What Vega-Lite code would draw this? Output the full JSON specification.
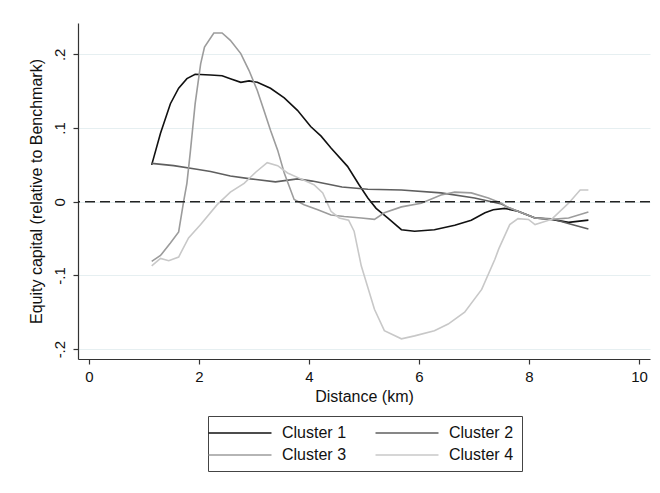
{
  "$schema": "https://vega.github.io/schema/vega-lite/v6.json",
  "autosize": "none",
  "width": 572,
  "height": 336,
  "padding": {"left": 78, "top": 23, "right": 10, "bottom": 134},
  "background": "white",
  "config": {
    "view": {"stroke": null},
    "font": "Liberation Sans",
    "axis": {"domainColor": "#333333", "tickColor": "#333333", "labelColor": "#111111", "titleColor": "#111111", "titleFontWeight": "normal", "labelFontSize": 15, "titleFontSize": 16, "tickSize": 5, "domainWidth": 1.2, "tickWidth": 1.2},
    "legend": {"labelFontSize": 16, "labelColor": "#111111"}
  },
  "datasets": {
    "curves": [
      {"c": "Cluster 1", "x": 1.14, "y": 0.050},
      {"c": "Cluster 1", "x": 1.30, "y": 0.093},
      {"c": "Cluster 1", "x": 1.48, "y": 0.133},
      {"c": "Cluster 1", "x": 1.63, "y": 0.154},
      {"c": "Cluster 1", "x": 1.78, "y": 0.167},
      {"c": "Cluster 1", "x": 1.93, "y": 0.173},
      {"c": "Cluster 1", "x": 2.21, "y": 0.172},
      {"c": "Cluster 1", "x": 2.42, "y": 0.171},
      {"c": "Cluster 1", "x": 2.57, "y": 0.167},
      {"c": "Cluster 1", "x": 2.76, "y": 0.162},
      {"c": "Cluster 1", "x": 2.91, "y": 0.164},
      {"c": "Cluster 1", "x": 3.06, "y": 0.162},
      {"c": "Cluster 1", "x": 3.30, "y": 0.154},
      {"c": "Cluster 1", "x": 3.55, "y": 0.141},
      {"c": "Cluster 1", "x": 3.79, "y": 0.124},
      {"c": "Cluster 1", "x": 4.03, "y": 0.102},
      {"c": "Cluster 1", "x": 4.22, "y": 0.089},
      {"c": "Cluster 1", "x": 4.40, "y": 0.073},
      {"c": "Cluster 1", "x": 4.70, "y": 0.048},
      {"c": "Cluster 1", "x": 4.91, "y": 0.023},
      {"c": "Cluster 1", "x": 5.07, "y": 0.005},
      {"c": "Cluster 1", "x": 5.22, "y": -0.009},
      {"c": "Cluster 1", "x": 5.43, "y": -0.022},
      {"c": "Cluster 1", "x": 5.68, "y": -0.038},
      {"c": "Cluster 1", "x": 5.92, "y": -0.040},
      {"c": "Cluster 1", "x": 6.28, "y": -0.038},
      {"c": "Cluster 1", "x": 6.65, "y": -0.032},
      {"c": "Cluster 1", "x": 6.95, "y": -0.025},
      {"c": "Cluster 1", "x": 7.20, "y": -0.015},
      {"c": "Cluster 1", "x": 7.35, "y": -0.011},
      {"c": "Cluster 1", "x": 7.56, "y": -0.009},
      {"c": "Cluster 1", "x": 7.80, "y": -0.013},
      {"c": "Cluster 1", "x": 8.11, "y": -0.022},
      {"c": "Cluster 1", "x": 8.41, "y": -0.024},
      {"c": "Cluster 1", "x": 8.72, "y": -0.028},
      {"c": "Cluster 1", "x": 9.08, "y": -0.025},
      {"c": "Cluster 2", "x": 1.14, "y": 0.052},
      {"c": "Cluster 2", "x": 1.54, "y": 0.049},
      {"c": "Cluster 2", "x": 1.96, "y": 0.044},
      {"c": "Cluster 2", "x": 2.21, "y": 0.041},
      {"c": "Cluster 2", "x": 2.57, "y": 0.035},
      {"c": "Cluster 2", "x": 2.94, "y": 0.031},
      {"c": "Cluster 2", "x": 3.39, "y": 0.027},
      {"c": "Cluster 2", "x": 3.79, "y": 0.031},
      {"c": "Cluster 2", "x": 4.06, "y": 0.028},
      {"c": "Cluster 2", "x": 4.40, "y": 0.023},
      {"c": "Cluster 2", "x": 4.60, "y": 0.020},
      {"c": "Cluster 2", "x": 5.07, "y": 0.017},
      {"c": "Cluster 2", "x": 5.68, "y": 0.016},
      {"c": "Cluster 2", "x": 6.40, "y": 0.012},
      {"c": "Cluster 2", "x": 7.01, "y": 0.005},
      {"c": "Cluster 2", "x": 7.50, "y": -0.003},
      {"c": "Cluster 2", "x": 7.60, "y": -0.007},
      {"c": "Cluster 2", "x": 8.11, "y": -0.022},
      {"c": "Cluster 2", "x": 8.41, "y": -0.023},
      {"c": "Cluster 2", "x": 8.78, "y": -0.031},
      {"c": "Cluster 2", "x": 9.08, "y": -0.037},
      {"c": "Cluster 3", "x": 1.14, "y": -0.081},
      {"c": "Cluster 3", "x": 1.30, "y": -0.073},
      {"c": "Cluster 3", "x": 1.48, "y": -0.056},
      {"c": "Cluster 3", "x": 1.63, "y": -0.041},
      {"c": "Cluster 3", "x": 1.72, "y": 0.000},
      {"c": "Cluster 3", "x": 1.78, "y": 0.025},
      {"c": "Cluster 3", "x": 1.84, "y": 0.066},
      {"c": "Cluster 3", "x": 1.93, "y": 0.133},
      {"c": "Cluster 3", "x": 2.03, "y": 0.187},
      {"c": "Cluster 3", "x": 2.10, "y": 0.210},
      {"c": "Cluster 3", "x": 2.27, "y": 0.229},
      {"c": "Cluster 3", "x": 2.42, "y": 0.229},
      {"c": "Cluster 3", "x": 2.57, "y": 0.219},
      {"c": "Cluster 3", "x": 2.76, "y": 0.201},
      {"c": "Cluster 3", "x": 2.91, "y": 0.178},
      {"c": "Cluster 3", "x": 3.06, "y": 0.151},
      {"c": "Cluster 3", "x": 3.18, "y": 0.124},
      {"c": "Cluster 3", "x": 3.30, "y": 0.097},
      {"c": "Cluster 3", "x": 3.43, "y": 0.070},
      {"c": "Cluster 3", "x": 3.55, "y": 0.039},
      {"c": "Cluster 3", "x": 3.73, "y": 0.003},
      {"c": "Cluster 3", "x": 3.91, "y": -0.004},
      {"c": "Cluster 3", "x": 4.16, "y": -0.011},
      {"c": "Cluster 3", "x": 4.40, "y": -0.018},
      {"c": "Cluster 3", "x": 4.64, "y": -0.020},
      {"c": "Cluster 3", "x": 4.95, "y": -0.022},
      {"c": "Cluster 3", "x": 5.19, "y": -0.024},
      {"c": "Cluster 3", "x": 5.37, "y": -0.015},
      {"c": "Cluster 3", "x": 5.68, "y": -0.007},
      {"c": "Cluster 3", "x": 6.04, "y": -0.002},
      {"c": "Cluster 3", "x": 6.40, "y": 0.009},
      {"c": "Cluster 3", "x": 6.65, "y": 0.013},
      {"c": "Cluster 3", "x": 6.95, "y": 0.012},
      {"c": "Cluster 3", "x": 7.26, "y": 0.005},
      {"c": "Cluster 3", "x": 7.50, "y": -0.002},
      {"c": "Cluster 3", "x": 7.60, "y": -0.007},
      {"c": "Cluster 3", "x": 8.11, "y": -0.022},
      {"c": "Cluster 3", "x": 8.41, "y": -0.024},
      {"c": "Cluster 3", "x": 8.72, "y": -0.022},
      {"c": "Cluster 3", "x": 9.08, "y": -0.014},
      {"c": "Cluster 4", "x": 1.14, "y": -0.087},
      {"c": "Cluster 4", "x": 1.30, "y": -0.077},
      {"c": "Cluster 4", "x": 1.45, "y": -0.080},
      {"c": "Cluster 4", "x": 1.63, "y": -0.075},
      {"c": "Cluster 4", "x": 1.81, "y": -0.049},
      {"c": "Cluster 4", "x": 2.03, "y": -0.031},
      {"c": "Cluster 4", "x": 2.33, "y": -0.004},
      {"c": "Cluster 4", "x": 2.57, "y": 0.013},
      {"c": "Cluster 4", "x": 2.82, "y": 0.025},
      {"c": "Cluster 4", "x": 3.03, "y": 0.040},
      {"c": "Cluster 4", "x": 3.24, "y": 0.053},
      {"c": "Cluster 4", "x": 3.43, "y": 0.049},
      {"c": "Cluster 4", "x": 3.61, "y": 0.039},
      {"c": "Cluster 4", "x": 3.85, "y": 0.031},
      {"c": "Cluster 4", "x": 4.09, "y": 0.023},
      {"c": "Cluster 4", "x": 4.25, "y": 0.012},
      {"c": "Cluster 4", "x": 4.40, "y": -0.013},
      {"c": "Cluster 4", "x": 4.55, "y": -0.022},
      {"c": "Cluster 4", "x": 4.72, "y": -0.025},
      {"c": "Cluster 4", "x": 4.82, "y": -0.040},
      {"c": "Cluster 4", "x": 4.95, "y": -0.087},
      {"c": "Cluster 4", "x": 5.19, "y": -0.146},
      {"c": "Cluster 4", "x": 5.37, "y": -0.175},
      {"c": "Cluster 4", "x": 5.68, "y": -0.186},
      {"c": "Cluster 4", "x": 5.92, "y": -0.182},
      {"c": "Cluster 4", "x": 6.28, "y": -0.175},
      {"c": "Cluster 4", "x": 6.53, "y": -0.166},
      {"c": "Cluster 4", "x": 6.83, "y": -0.150},
      {"c": "Cluster 4", "x": 7.14, "y": -0.119},
      {"c": "Cluster 4", "x": 7.38, "y": -0.078},
      {"c": "Cluster 4", "x": 7.45, "y": -0.064},
      {"c": "Cluster 4", "x": 7.65, "y": -0.031},
      {"c": "Cluster 4", "x": 7.80, "y": -0.023},
      {"c": "Cluster 4", "x": 7.99, "y": -0.024},
      {"c": "Cluster 4", "x": 8.11, "y": -0.031},
      {"c": "Cluster 4", "x": 8.41, "y": -0.024},
      {"c": "Cluster 4", "x": 8.72, "y": -0.002},
      {"c": "Cluster 4", "x": 8.93, "y": 0.016},
      {"c": "Cluster 4", "x": 9.08, "y": 0.016}
    ],
    "zero": [{"y": 0}]
  },
  "layer": [
    {
      "data": {"name": "curves"},
      "mark": {"type": "line", "strokeWidth": 1.6, "interpolate": "linear"},
      "encoding": {
        "x": {
          "field": "x", "type": "quantitative",
          "scale": {"domain": [-0.2, 10.2], "nice": false, "zero": false},
          "axis": {"values": [0, 2, 4, 6, 8, 10], "grid": false, "title": "Distance (km)", "labelPadding": 5, "titlePadding": 4, "labelFlush": false}
        },
        "y": {
          "field": "y", "type": "quantitative",
          "scale": {"domain": [-0.2134, 0.2425], "nice": false, "zero": false},
          "axis": {
            "values": [-0.2, -0.1, 0, 0.1, 0.2],
            "grid": true, "gridColor": "#e6eff1", "gridWidth": 1.2,
            "labelAngle": -90, "labelAlign": "center", "labelBaseline": "bottom", "labelPadding": 6,
            "labelExpr": "datum.value == 0 ? '0' : (datum.value < 0 ? '-' : '') + '.' + toString(round(abs(datum.value) * 10))",
            "title": "Equity capital (relative to Benchmark)", "titlePadding": 8, "labelFlush": false
          }
        },
        "color": {
          "field": "c", "type": "nominal",
          "scale": {"domain": ["Cluster 1", "Cluster 2", "Cluster 3", "Cluster 4"], "range": ["#111111", "#5f5f5f", "#9c9c9c", "#c8c8c8"]},
          "legend": {
            "title": null, "orient": "none", "direction": "horizontal", "legendX": 130, "legendY": 393,
            "columns": 2, "columnPadding": 25, "rowPadding": 5,
            "symbolType": "M-4,0H4", "symbolSize": 248, "symbolStrokeWidth": 1.6,
            "symbolOffset": 15, "labelOffset": 33, "padding": 8,
            "strokeColor": "#444444", "fillColor": "white"
          }
        }
      }
    },
    {
      "data": {"name": "zero"},
      "mark": {"type": "rule", "strokeDash": [10, 5], "strokeWidth": 1.6, "color": "#222222"},
      "encoding": {"y": {"field": "y", "type": "quantitative"}}
    }
  ]
}
